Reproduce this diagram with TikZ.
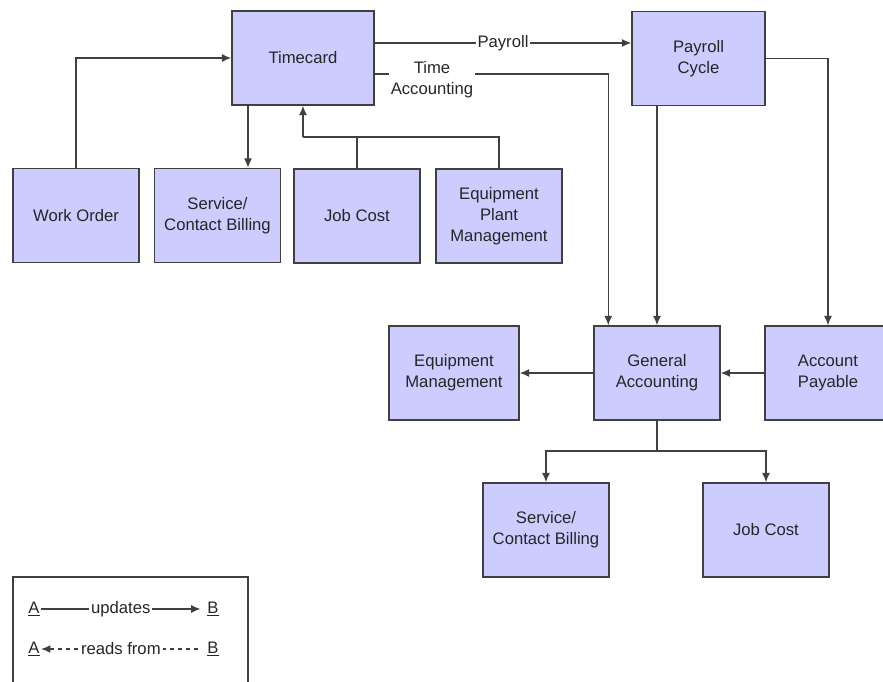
\documentclass[tikz,border=0pt]{standalone}
\usepackage{fontspec}
\setmainfont{Liberation Sans}
\usetikzlibrary{arrows.meta}
\definecolor{boxfill}{HTML}{CCCCFF}
\definecolor{linegray}{HTML}{404040}
\begin{document}
\begin{tikzpicture}[x=0.75pt, y=-0.75pt,
    font=\fontsize{12.5}{15.75}\selectfont,
    box/.style={draw=linegray, line width=1.1pt, fill=boxfill, align=center,
      minimum width=94.5pt, minimum height=70.5pt, inner sep=2pt, text=black!85},
    tag/.style={fill=white, inner sep=1.5pt, align=center, text=black!85},
    letter/.style={inner sep=1pt, text=black!85},
    >={Latex[length=7pt,width=6pt]}]
  \useasboundingbox (0,0) rectangle (883,682);
  \draw
    (303,58) node[box, minimum width=106.5pt] (timecard){Timecard}
    (698.5,58.5) node[box, minimum width=99.75pt] (payroll){Payroll\\Cycle}
    (76,215.5) node[box] (workorder){Work Order}
    (217.5,215.5) node[box] (billing){Service/\\Contact Billing}
    (357,216) node[box] (jobcost){Job Cost}
    (499,216) node[box] (plant){Equipment\\Plant\\Management}
    (454,373) node[box, minimum width=97.5pt] (equipment){Equipment\\Management}
    (657,373) node[box] (general){General\\Accounting}
    (828,373) node[box] (payable){Account\\Payable}
    (546,530) node[box] (billing2){Service/\\Contact Billing}
    (766,530) node[box] (jobcost2){Job Cost};
  \coordinate (join) at (303,137);
  \coordinate (split) at (657,451);
  \begin{scope}[->, linegray, line width=0.9pt]
    \draw (workorder.north) |- (timecard.west);
    \draw ([xshift=-41.25pt]timecard.south) -- ([xshift=-41.25pt]timecard.south |- billing.north);
    \draw[-] (jobcost.north) |- (join);
    \draw[-] (plant.north) |- (join);
    \draw (join) -- (timecard.south);
    \draw ([yshift=11.25pt]timecard.east) -- node[tag]{Payroll} ([yshift=11.25pt]timecard.east -| payroll.west);
    \draw ([yshift=-12pt]timecard.east) -| ([xshift=11.25pt]general.north west);
    \draw (payroll.south -| general.north) -- (general.north);
    \draw (payroll.east) -| (payable.north);
    \draw (payable) -- (general);
    \draw (general) -- (equipment);
    \draw[-] (general.south) -- (split);
    \draw (split) -| (billing2.north);
    \draw (split) -| (jobcost2.north);
  \end{scope}
  \node[tag] (timeacct) at (432,80) {Time\\Accounting};
  \draw[linegray, line width=1pt] (13,577) rectangle (248,700);
  \draw
    (34,609) node[letter] (a1){\underline{A}}
    (213,609) node[letter, inner xsep=5pt] (b1){\underline{B}}
    (34,649) node[letter] (a2){\underline{A}}
    (213,649) node[letter, inner xsep=5pt] (b2){\underline{B}};
  \begin{scope}[linegray, line width=0.9pt]
    \draw[->] (a1) -- node[tag]{updates} (b1);
    \draw[<-, dashed] (a2) -- node[tag]{reads from} (b2);
  \end{scope}
\end{tikzpicture}
\end{document}
